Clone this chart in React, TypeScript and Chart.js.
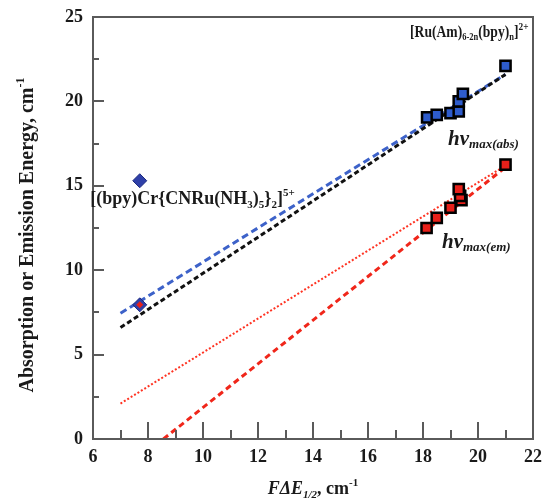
import React, { useEffect, useRef } from "react";
import { Chart, registerables } from "chart.js";

Chart.register(...registerables);

const FONT = '"Liberation Serif", "Times New Roman", serif';

// Data
const absX = [18.15, 18.5, 19.0, 19.3, 19.3, 19.45, 21.0];
const absY = [19.05, 19.2, 19.3, 19.4, 20.0, 20.45, 22.1];
const emX = [18.13, 18.5, 19.0, 19.4, 19.35, 19.3, 21.0];
const emY = [12.5, 13.1, 13.7, 14.15, 14.4, 14.8, 16.25];
const crAbsX = [7.7, 7.7];
const crAbsY = [15.3, 7.95];
const crEmX = [7.7];
const crEmY = [7.95];
const fitBlueX = [7, 21];
const fitBlueY = [7.45, 21.6];
const fitBlackX = [7, 21];
const fitBlackY = [6.6, 21.6];
const fitRedDotX = [7, 21];
const fitRedDotY = [2.1, 16.2];
const fitRedDashX = [8.56, 21];
const fitRedDashY = [0, 16.1];

const xMin = 6, xMax = 22, xStep = 2, xMinorStep = 1;
const yMin = 0, yMax = 25, yStep = 5, yMinorStep = 2.5;

const pts = (xs: number[], ys: number[]) => xs.map((x, i) => ({ x, y: ys[i] }));

type Seg = { t: string; size: number; bold?: boolean; italic?: boolean; dy?: number };

function drawRich(
  ctx: CanvasRenderingContext2D,
  segs: Seg[],
  x: number,
  y: number,
  align: "left" | "center",
  scaleX = 1
) {
  const fontOf = (s: Seg) => `${s.italic ? "italic " : ""}${s.bold === false ? "" : "bold "}${s.size}px ${FONT}`;
  let total = 0;
  const widths = segs.map((s) => {
    ctx.font = fontOf(s);
    const w = ctx.measureText(s.t).width;
    total += w;
    return w;
  });
  ctx.save();
  ctx.translate(x, y);
  ctx.scale(scaleX, 1);
  let cx = align === "center" ? -total / 2 : 0;
  ctx.textAlign = "left";
  ctx.textBaseline = "alphabetic";
  segs.forEach((s, i) => {
    ctx.font = fontOf(s);
    ctx.fillText(s.t, cx, s.dy || 0);
    cx += widths[i];
  });
  ctx.restore();
}

const framePlugin = {
  id: "frameTicks",
  afterDraw(chart: any) {
    const ctx: CanvasRenderingContext2D = chart.ctx;
    const a = chart.chartArea;
    const xs = chart.scales.x, ys = chart.scales.y;
    ctx.save();
    ctx.globalAlpha = 1;
    ctx.globalCompositeOperation = "source-over";
    ctx.fillStyle = "#5a5a5a";
    const L = a.left, R = a.right, T = a.top, B = a.bottom;
    // frame
    ctx.fillRect(L - 1, T - 1, 2, B - T + 2);
    ctx.fillRect(R - 1, T - 1, 2, B - T + 2);
    ctx.fillRect(L - 1, T - 1, R - L + 2, 2);
    ctx.fillRect(L - 1, B - 1, R - L + 2, 2);
    // ticks (inward)
    const nx = Math.round((xMax - xMin) / xMinorStep);
    for (let i = 0; i <= nx; i++) {
      const px = Math.round(xs.getPixelForValue(xMin + i * xMinorStep));
      const len = i % 2 === 0 ? 17 : 9;
      ctx.fillRect(px - 1, B - len, 2, len);
    }
    const ny = Math.round((yMax - yMin) / yMinorStep);
    for (let i = 0; i <= ny; i++) {
      const py = Math.round(ys.getPixelForValue(yMin + i * yMinorStep));
      const len = i % 2 === 0 ? 11 : 6;
      ctx.fillRect(L, py - 1, len, 2);
    }

    // annotations
    ctx.fillStyle = "#1a1a1a";
    const X = (v: number) => xs.getPixelForValue(v);
    const Y = (v: number) => ys.getPixelForValue(v);
    drawRich(ctx, [
      { t: "[Ru(Am)", size: 16 },
      { t: "6-2n", size: 10, dy: 3 },
      { t: "(bpy)", size: 16 },
      { t: "n", size: 10, dy: 3 },
      { t: "]", size: 16 },
      { t: "2+", size: 11, dy: -7 },
    ], X(17.53), Y(23.8), "left", 0.85);
    drawRich(ctx, [
      { t: "[(bpy)Cr{CNRu(NH", size: 18 },
      { t: "3", size: 11, dy: 4 },
      { t: ")", size: 18 },
      { t: "5", size: 11, dy: 4 },
      { t: "}", size: 18 },
      { t: "2", size: 11, dy: 4 },
      { t: "]", size: 18 },
      { t: "5+", size: 11, dy: -8 },
    ], X(5.9), Y(13.9), "left");
    drawRich(ctx, [
      { t: "h", size: 21, italic: true },
      { t: "\u03bd", size: 21, italic: true },
      { t: "max(abs)", size: 13, italic: true, dy: 3 },
    ], X(18.91), Y(17.42), "left");
    drawRich(ctx, [
      { t: "h", size: 21, italic: true },
      { t: "\u03bd", size: 21, italic: true },
      { t: "max(em)", size: 13, italic: true, dy: 3 },
    ], X(18.69), Y(11.3), "left");

    // axis titles
    drawRich(ctx, [
      { t: "F\u0394E", size: 18, italic: true },
      { t: "1/2", size: 11, italic: true, dy: 4 },
      { t: ", cm", size: 18 },
      { t: "-1", size: 11, dy: -8 },
    ], (L + R) / 2, 494, "center");
    ctx.save();
    ctx.translate(33, 235);
    ctx.rotate(-Math.PI / 2);
    drawRich(ctx, [
      { t: "Absorption or Emission Energy, cm", size: 20 },
      { t: "-1", size: 12, dy: -9 },
    ], 0, 0, "center");
    ctx.restore();
    ctx.restore();
  },
};

export default function App() {
  const ref = useRef<HTMLCanvasElement>(null);
  useEffect(() => {
    document.body.style.margin = "0";
    const canvas = ref.current!;
    const chart = new Chart(canvas, {
      type: "scatter",
      data: {
        datasets: [
          {
            data: pts(crEmX, crEmY), pointStyle: "rectRot", pointRadius: 3.5,
            backgroundColor: "#e8201a", borderColor: "#e8201a", borderWidth: 0, order: 0,
          },
          {
            data: pts(crAbsX, crAbsY), pointStyle: "rectRot", pointRadius: 7,
            backgroundColor: "#2f40a8", borderColor: "#1d2a80", borderWidth: 1, order: 1,
          },
          {
            data: pts(absX, absY), pointStyle: "rect", pointRadius: 7.2,
            backgroundColor: "#2e5ccc", borderColor: "#000000", borderWidth: 2.5, order: 2,
          },
          {
            data: pts(emX, emY), pointStyle: "rect", pointRadius: 7.2,
            backgroundColor: "#e8201a", borderColor: "#000000", borderWidth: 2.5, order: 3,
          },
          {
            data: pts(fitBlackX, fitBlackY), showLine: true, pointRadius: 0,
            borderColor: "#111111", borderWidth: 3, borderDash: [5, 3], order: 4,
          },
          {
            data: pts(fitBlueX, fitBlueY), showLine: true, pointRadius: 0,
            borderColor: "#3d62c9", borderWidth: 3, borderDash: [7, 4], order: 5,
          },
          {
            data: pts(fitRedDashX, fitRedDashY), showLine: true, pointRadius: 0,
            borderColor: "#f0261a", borderWidth: 3, borderDash: [6, 4], order: 6,
          },
          {
            data: pts(fitRedDotX, fitRedDotY), showLine: true, pointRadius: 0,
            borderColor: "#ff3322", borderWidth: 2, borderDash: [2, 2], order: 7,
          },
        ],
      },
      options: {
        animation: false,
        responsive: false,
        devicePixelRatio: 1,
        layout: { autoPadding: false, padding: { top: 17, right: 10, left: 0, bottom: 0 } },
        plugins: { legend: { display: false }, tooltip: { enabled: false } },
        scales: {
          x: {
            type: "linear", min: xMin, max: xMax,
            afterFit: (s: any) => { s.height = 61; s.paddingLeft = 0; s.paddingRight = 0; },
            grid: { display: false, drawTicks: false },
            border: { display: false },
            ticks: {
              stepSize: xStep, padding: 8, autoSkip: false, maxRotation: 0,
              color: "#1a1a1a", font: { family: FONT, size: 18, weight: "bold" },
            },
          },
          y: {
            type: "linear", min: yMin, max: yMax,
            afterFit: (s: any) => { s.width = 93; s.paddingTop = 0; s.paddingBottom = 0; },
            grid: { display: false, drawTicks: false },
            border: { display: false },
            ticks: {
              stepSize: yStep, padding: 10, autoSkip: false,
              color: "#1a1a1a", font: { family: FONT, size: 18, weight: "bold" },
            },
          },
        },
      },
      plugins: [framePlugin],
    });
    return () => chart.destroy();
  }, []);
  return <canvas ref={ref} width={543} height={500} style={{ display: "block" }} />;
}
